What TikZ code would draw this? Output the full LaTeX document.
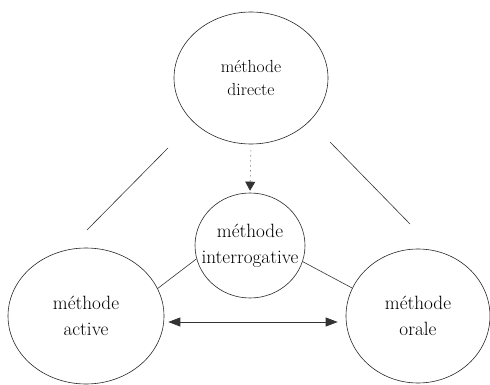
\documentclass[tikz,border=0pt]{standalone}
\usetikzlibrary{shapes.geometric,arrows.meta}
\begin{document}
\begin{tikzpicture}[x=1pt,y=-1pt,
  circ/.style={draw=black!85, line width=0.6pt, ellipse, inner sep=0pt},
  lbl/.style={align=center, inner sep=0pt, font=\fontsize{19.2}{26}\selectfont},
  link/.style={draw=black!80, line width=0.6pt},
  tip/.style={-{Triangle[length=9pt,width=10pt]}}
]
\useasboundingbox (0,0) rectangle (490,385);
\node[circ, minimum width=154pt, minimum height=132pt] (direct) at (251,78) {};
\node[circ, minimum width=110pt, minimum height=105pt] (interro) at (250,245.5) {};
\node[circ, minimum width=156pt, minimum height=136pt] (active) at (86,316) {};
\node[circ, minimum width=144pt, minimum height=134pt] (orale) at (418,316) {};
\node[lbl, font=\fontsize{17.5}{22.5}\selectfont] (tdirect) at (direct.center) {méthode\\directe};
\node[lbl] (tinterro) at (interro.center) {méthode\\interrogative};
\node[lbl] (tactive) at (active.center) {méthode\\active};
\node[lbl] (torale) at (orale.center) {méthode\\orale};
% free lines
\coordinate (tl1) at (168,148);
\coordinate (tl2) at (87,230);
\coordinate (tr1) at (330,142);
\coordinate (tr2) at (410,224);
\draw[link] (tl1) -- (tl2);
\draw[link] (tr1) -- (tr2);
% circle to circle lines
\draw[link] (interro.194) -- (active.21);
\draw[link] (interro.343) -- (orale.157);
% dotted arrow
\draw[link, tip, dash pattern=on 1pt off 4pt, shorten >=2pt, shorten <=6pt] (direct.south) -- (interro.north);
% double arrow
\draw[link, line width=0.8pt, {Triangle[length=12pt,width=9pt]}-{Triangle[length=12pt,width=9pt]}, shorten <=4pt, shorten >=8pt] ([yshift=-6pt]active.east) -- ([yshift=-6pt]orale.west);
\end{tikzpicture}
\end{document}
